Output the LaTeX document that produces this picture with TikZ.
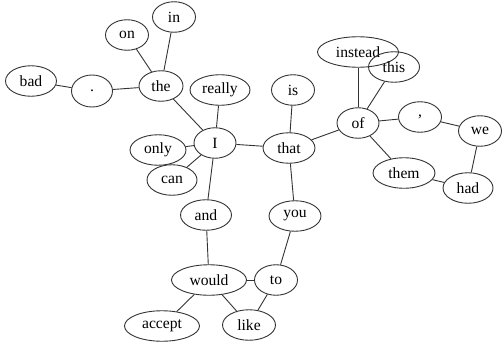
\documentclass[tikz,border=0pt]{standalone}
\usepackage{fontspec}
\setmainfont{Liberation Serif}
\usetikzlibrary{shapes.geometric}
\tikzset{
  wnode/.style={ellipse, draw=black!80, line width=0.9pt, inner sep=0pt, minimum height=30.5pt, minimum width=#1, font=\fontsize{15.6}{18}\selectfont},
  link/.style={draw=black!80, line width=0.9pt}
}
\begin{document}
\begin{tikzpicture}[x=1pt,y=-1pt]
\useasboundingbox (0,0) rectangle (502,342);
\node[wnode=51] (bad) at (31,81) {bad};
\node[wnode=41, minimum height=32pt] (dot) at (92,91) {.};
\node[wnode=44] (the) at (161,86) {the};
\node[wnode=43] (on) at (127,35) {on};
\node[wnode=43] (in) at (174,17) {in};
\node[wnode=60] (really) at (220,90) {really};
\node[wnode=42] (I) at (215,143) {I};
\node[wnode=56] (only) at (158,150) {only};
\node[wnode=50] (can) at (172,180) {can};
\node[wnode=52] (that) at (289,148) {that};
\node[wnode=43] (is) at (293,90) {is};
\node[wnode=81] (instead) at (358,52) {instead};
\node[wnode=51] (this) at (394,67) {this};
\node[wnode=42] (of) at (358,123) {of};
\node[wnode=43] (comma) at (420,117) {,};
\node[wnode=43] (we) at (480,131) {we};
\node[wnode=62] (them) at (404,173) {them};
\node[wnode=50] (had) at (468,188) {had};
\node[wnode=52] (you) at (295,216) {you};
\node[wnode=43] (to) at (276,280) {to};
\node[wnode=51] (and) at (206,215) {and};
\node[wnode=75] (would) at (209,280) {would};
\node[wnode=75] (accept) at (162,326) {accept};
\node[wnode=53] (like) at (249,325) {like};
\foreach \a/\b in {bad/dot, dot/the, the/on, the/in, the/I, I/really, I/only, I/can, I/that, I/and, that/is, that/of, that/you, of/instead, of/this, of/comma, of/them, comma/we, we/had, them/had, and/would, would/accept, would/like, would/to, to/like, to/you}
  \draw[link] (\a) -- (\b);
\end{tikzpicture}
\end{document}
